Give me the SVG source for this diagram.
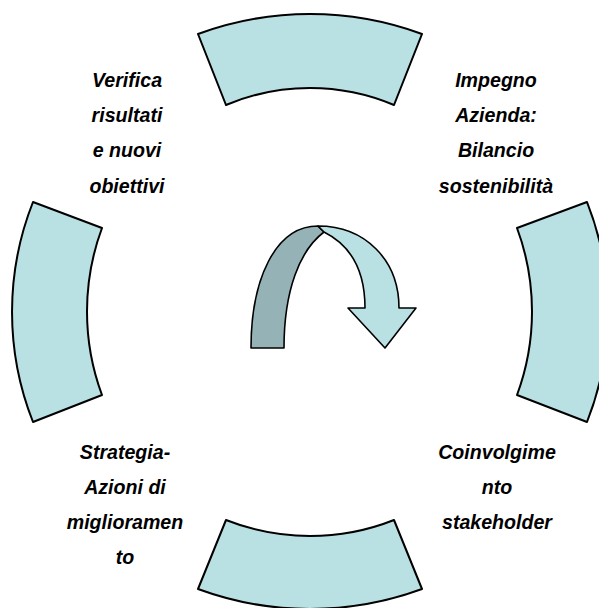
<svg xmlns="http://www.w3.org/2000/svg" width="599" height="608" viewBox="0 0 599 608">
<style>
.seg{fill:#B9E0E3;stroke:#000;stroke-width:2;stroke-linejoin:round}
.arrL{fill:#B9E0E3;stroke:#000;stroke-width:1.6;stroke-linejoin:round}
.arrD{fill:#95B3B7;stroke:#000;stroke-width:1.6;stroke-linejoin:round}
.lbl{font-family:"Liberation Sans",Arial,sans-serif;font-size:19.6px;font-weight:bold;font-style:italic;fill:#000;text-anchor:middle}
</style>
<rect width="599" height="608" fill="#fff"/>
<g id="seg-top"><path class="seg" d="M198,34 A324,324 0 0 1 422,34 L394,105 A216,216 0 0 0 226,105 Z"/></g>
<g id="seg-right"><path class="seg" d="M587,202 A299,299 0 0 1 587,422 L517,395 A240,240 0 0 0 517,228 Z"/></g>
<g id="seg-bottom"><path class="seg" d="M226,520 A228,228 0 0 0 394,520 L422,589 A324,324 0 0 1 198,589 Z"/></g>
<g id="seg-left"><path class="seg" d="M33,202 A299,299 0 0 0 33,422 L102,395 A240,240 0 0 1 102,228 Z"/></g>
<g id="center-arrow">
<path class="arrD" d="M251,348 C251,280 275,226 318,226 L324,232 C300,250 284,290 284,348 Z"/>
<path class="arrL" d="M318,226 C365,226 399,260 399,308 L416,308 L385,348 L348,308 L365,308 C365,270 350,245 324,232 Z"/>
</g>
<g id="label-verifica" class="lbl">
<text x="127" y="87">Verifica</text>
<text x="127" y="122">risultati</text>
<text x="127" y="157">e nuovi</text>
<text x="127" y="193">obiettivi</text>
</g>
<g id="label-impegno" class="lbl">
<text x="496" y="87">Impegno</text>
<text x="496" y="122">Azienda:</text>
<text x="496" y="157">Bilancio</text>
<text x="496" y="193">sostenibilità</text>
</g>
<g id="label-strategia" class="lbl">
<text x="125" y="459">Strategia-</text>
<text x="125" y="494">Azioni di</text>
<text x="125" y="529">miglioramen</text>
<text x="125" y="564">to</text>
</g>
<g id="label-coinvolgimento" class="lbl">
<text x="497" y="459">Coinvolgime</text>
<text x="497" y="494">nto</text>
<text x="497" y="529">stakeholder</text>
</g>
</svg>
